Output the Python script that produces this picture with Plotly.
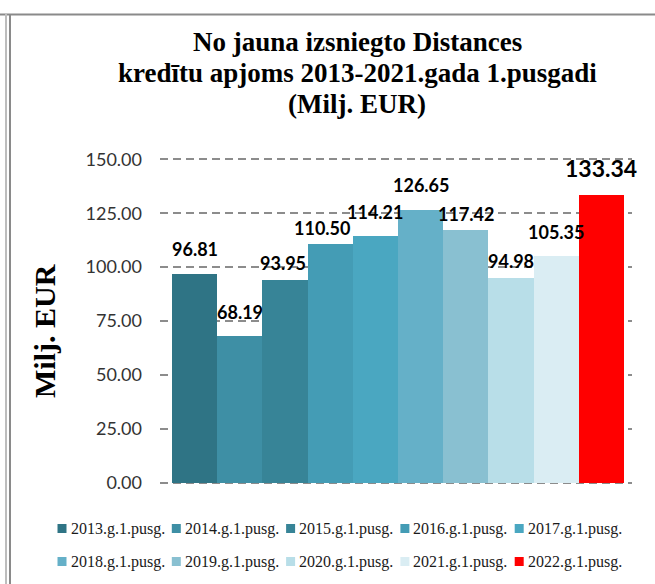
import plotly.graph_objects as go

# ---- data ----
categories = ["2013.g.1.pusg.", "2014.g.1.pusg.", "2015.g.1.pusg.", "2016.g.1.pusg.",
              "2017.g.1.pusg.", "2018.g.1.pusg.", "2019.g.1.pusg.", "2020.g.1.pusg.",
              "2021.g.1.pusg.", "2022.g.1.pusg."]
values = [96.81, 68.19, 93.95, 110.50, 114.21, 126.65, 117.42, 94.98, 105.35, 133.34]
y_ticks = [0, 25, 50, 75, 100, 125, 150]
title_lines = ["No jauna izsniegto Distances",
               "kredītu apjoms 2013-2021.gada 1.pusgadi",
               "(Milj. EUR)"]
y_title = "Milj. EUR"

# ---- styles ----
colors = ["#2F7485", "#3E8FA5", "#378497", "#449CB5", "#4AA7C1",
          "#65B0C8", "#89C0D1", "#B8DEE8", "#DAEDF3", "#FF0000"]
label_dy = [25, 24, 17, 16, 24, 24.5, 16, 17, 24, 27]   # px above bar top
label_dx = [0, 0, -2, -8, 0, 0, 0, 0, 0, 0]
label_size = [18] * 9 + [23]
title_y_px = [42, 73, 104]

W, H = 655, 584
L, R, T, B = 160, 632, 158, 484


def px_x(px):
    return (px - L) / (R - L)


def px_y(py):
    return (B - py) / (B - T)


fig = go.Figure()
for cat, val, col in zip(categories, values, colors):
    fig.add_trace(go.Bar(x=[cat], y=[val], name=cat, marker=dict(color=col, line=dict(width=0)),
                         showlegend=False, hoverinfo="name+y"))

annotations = []
for i, (cat, val) in enumerate(zip(categories, values)):
    annotations.append(dict(x=cat, y=val, xref="x", yref="y", text=f"{val:.2f}", showarrow=False,
                            xanchor="center", yanchor="middle", yshift=label_dy[i], xshift=label_dx[i],
                            font=dict(family="Lato", size=label_size[i], color="#000000", weight="bold")))

# title lines
for line, ty in zip(title_lines, title_y_px):
    annotations.append(dict(x=px_x(357), y=px_y(ty), xref="paper", yref="paper", text=line,
                            showarrow=False, xanchor="center", yanchor="middle",
                            font=dict(family="Liberation Serif", size=27, color="#000000", weight="bold")))

# y-axis title
annotations.append(dict(x=px_x(44), y=px_y(331), xref="paper", yref="paper", text=y_title,
                        textangle=-90, showarrow=False, xanchor="center", yanchor="middle",
                        font=dict(family="Liberation Serif", size=30, color="#000000", weight="bold")))

# manual legend
shapes = []
leg_x0, leg_dx = 57.5, 114.3
leg_rows = [528.5, 561.5]
for i, (cat, col) in enumerate(zip(categories, colors)):
    r, c = divmod(i, 5)
    mx = leg_x0 + c * leg_dx
    my = leg_rows[r]
    shapes.append(dict(type="rect", xref="paper", yref="paper",
                       x0=px_x(mx), x1=px_x(mx + 9), y0=px_y(my + 4.5), y1=px_y(my - 4.5),
                       fillcolor=col, line=dict(width=0)))
    annotations.append(dict(x=px_x(mx + 11), y=px_y(my), xref="paper", yref="paper", text=cat,
                            showarrow=False, xanchor="left", yanchor="middle",
                            font=dict(family="Liberation Serif", size=16, color="#1a1a1a")))

# frame lines
shapes += [
    dict(type="line", xref="paper", yref="paper", x0=px_x(0), x1=px_x(W), y0=px_y(14.5), y1=px_y(14.5),
         line=dict(color="#8a8a8a", width=2)),
    dict(type="line", xref="paper", yref="paper", x0=px_x(6), x1=px_x(6), y0=px_y(14), y1=px_y(H),
         line=dict(color="#bdbdbd", width=2)),
    dict(type="line", xref="paper", yref="paper", x0=px_x(10), x1=px_x(10), y0=px_y(14), y1=px_y(H),
         line=dict(color="#8a8a8a", width=2)),
]

fig.update_layout(
    width=W, height=H,
    margin=dict(l=L, r=W - R, t=T, b=H - B, pad=0),
    paper_bgcolor="white", plot_bgcolor="white",
    barmode="overlay", bargap=0,
    xaxis=dict(type="category", range=[-0.765, 9.677], showticklabels=False, showgrid=False,
               zeroline=False, showline=False, ticks="", fixedrange=True),
    yaxis=dict(range=[-0.6, 150.6], tickvals=y_ticks, tickformat=".2f", showgrid=True,
               gridcolor="#8c8c8c", gridwidth=2, griddash="8px,5px", zeroline=False,
               showline=False, ticks="", ticklabelstandoff=17,
               tickfont=dict(family="Lato", size=18, color="#333333")),
    annotations=annotations,
    shapes=shapes,
    showlegend=False,
)

fig.write_html("out.html", post_script="document.body.style.margin='0px';",
               config={"displayModeBar": False})
